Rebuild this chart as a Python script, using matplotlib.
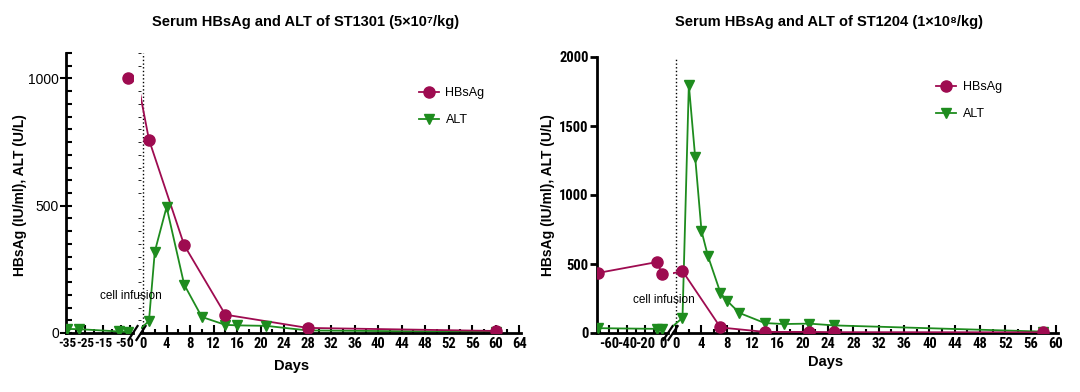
import matplotlib
matplotlib.use('Agg')
import matplotlib.pyplot as plt
from matplotlib import font_manager
from matplotlib.font_manager import FontProperties
from matplotlib.ticker import MultipleLocator, FixedLocator

# ST1301 (left panel)
hb1_pre_x = [-1]
hb1_pre_y = [1000]
hb1_x = [1, 7, 14, 28, 60]
hb1_y = [760, 345, 72, 20, 8]
alt1_pre_x = [-35, -28, -6, -1]
alt1_pre_y = [16, 15, 6, 5]
alt1_x = [1, 2, 4, 7, 10, 14, 16, 21, 28, 60]
alt1_y = [47, 320, 495, 190, 63, 32, 30, 28, 10, 4]

# ST1204 (right panel)
hb2_pre_x = [-72, -7, -1]
hb2_pre_y = [435, 514, 428]
hb2_x = [1, 7, 14, 21, 25, 58]
hb2_y = [449, 40, 8, 8, 6, 5]
alt2_pre_x = [-72, -7, -1]
alt2_pre_y = [35, 30, 30]
alt2_x = [1, 2, 3, 4, 5, 7, 8, 10, 14, 17, 21, 25, 58]
alt2_y = [110, 1800, 1275, 740, 560, 290, 235, 145, 72, 65, 68, 55, 10]

titles = ['Serum HBsAg and ALT of ST1301 (5×10⁷/kg)',
          'Serum HBsAg and ALT of ST1204 (1×10⁸/kg)']

MAG = '#9E0B50'
GRN = '#1E8C1E'

plt.rcParams['font.family'] = ['Liberation Sans', 'DejaVu Sans']
plt.rcParams['axes.unicode_minus'] = False

# look for an upright condensed bold face for the tick labels (like Arial Narrow)
cond = None
for f in font_manager.fontManager.ttflist:
    nm = f.name + ' ' + f.fname
    if ('Narrow' in nm or 'Condensed' in nm) and f.style == 'normal' \
            and 'Italic' not in nm and 'Oblique' not in nm \
            and f.weight in ('bold', 700):
        cond = f.fname
        if 'Liberation' in nm:
            break
if cond:
    tick_fp = FontProperties(fname=cond, size=10.5)
    small_fp = FontProperties(fname=cond, size=9.5)
else:
    tick_fp = FontProperties(family='Liberation Sans', weight='bold', size=8)
    small_fp = FontProperties(family='Liberation Sans', weight='bold', size=7)

W, H = 1080, 392
fig = plt.figure(figsize=(W / 100, H / 100), dpi=100)


def fx(px):
    return px / W


def fy(py):
    return 1 - py / H


def make_panel(seg1, seg2, top, xl1, xl2, ymax):
    bottom = 333
    h = fy(top) - fy(bottom)
    a1 = fig.add_axes([fx(seg1[0]), fy(bottom), fx(seg1[1] - seg1[0]), h])
    a2 = fig.add_axes([fx(seg2[0]), fy(bottom), fx(seg2[1] - seg2[0]), h], sharey=a1)
    a1.set_xlim(*xl1)
    a2.set_xlim(*xl2)
    a1.set_ylim(0, ymax)
    for a in (a1, a2):
        a.spines['top'].set_visible(False)
        a.spines['right'].set_visible(False)
        a.spines['bottom'].set_linewidth(2)
        a.patch.set_alpha(0)
        a.tick_params(axis='x', which='major', direction='in', length=6, width=1.5, pad=3)
        a.tick_params(axis='x', which='minor', direction='in', length=3, width=1.5)
    a1.spines['left'].set_linewidth(2)
    a2.spines['left'].set_visible(False)
    a2.tick_params(axis='y', left=False, labelleft=False)
    # break marks
    d = 0.012
    kw = dict(color='k', lw=1.6, clip_on=False)
    r = (seg1[1] - seg1[0]) / (seg2[1] - seg2[0])
    a1.plot([1 - d / r, 1 + d / r], [-0.025, 0.025], transform=a1.transAxes, **kw)
    a2.plot([-d, d], [-0.025, 0.025], transform=a2.transAxes, **kw)
    return a1, a2


def draw(a1, a2, hpx, hpy, hx, hy, apx, apy, ax_, ay):
    # pre-infusion segment
    a1.plot(apx, apy, '-v', color=GRN, ms=7, lw=1.3, zorder=4)
    a1.plot(hpx, hpy, '-o', color=MAG, ms=8, lw=1.3, zorder=5)
    # post-infusion segment, line bridged from the last pre point
    a2.plot(apx[-1:] + ax_, apy[-1:] + ay, color=GRN, lw=1.3, zorder=2)
    a2.plot(hpx[-1:] + hx, hpy[-1:] + hy, color=MAG, lw=1.3, zorder=3)
    a2.plot(ax_, ay, 'v', color=GRN, ms=7, zorder=4)
    a2.plot(hx, hy, 'o', color=MAG, ms=8, zorder=5)
    a2.axvline(0, color='k', ls=':', lw=1, zorder=1)


# ---- left panel
l1, l2 = make_panel((66, 133), (141, 521), 53, (-35.5, 1.8), (-0.35, 64.3), 1100)
l1.xaxis.set_major_locator(FixedLocator([-35, -25, -15, -5, 0]))
l1.xaxis.set_minor_locator(FixedLocator([-30, -20, -10]))
l2.xaxis.set_major_locator(MultipleLocator(4))
l2.xaxis.set_minor_locator(MultipleLocator(2))
l1.yaxis.set_major_locator(FixedLocator([0, 500, 1000]))
l1.yaxis.set_minor_locator(MultipleLocator(50))
l1.tick_params(axis='y', which='major', direction='inout', length=8, width=1.5, labelsize=10, pad=1)
l1.tick_params(axis='y', which='minor', direction='in', length=4, width=1.5)
draw(l1, l2, hb1_pre_x, hb1_pre_y, hb1_x, hb1_y, alt1_pre_x, alt1_pre_y, alt1_x, alt1_y)

# ---- right panel
r1, r2 = make_panel((597, 668), (673, 1058), 57, (-73, 5.3), (-0.5, 60.3), 2000)
r1.xaxis.set_major_locator(FixedLocator([-60, -40, -20, 0]))
r1.xaxis.set_minor_locator(FixedLocator([-70, -50, -30, -10]))
r2.xaxis.set_major_locator(MultipleLocator(4))
r2.xaxis.set_minor_locator(MultipleLocator(2))
r1.yaxis.set_major_locator(MultipleLocator(500))
r1.tick_params(axis='y', which='major', direction='out', length=5, width=2, pad=1)
draw(r1, r2, hb2_pre_x, hb2_pre_y, hb2_x, hb2_y, alt2_pre_x, alt2_pre_y, alt2_x, alt2_y)

for a in (l2, r1, r2):
    for lab in a.get_xticklabels():
        lab.set_fontproperties(tick_fp)
for lab in l1.get_xticklabels():
    lab.set_fontproperties(small_fp)
for lab in r1.get_yticklabels():
    lab.set_fontproperties(tick_fp)

# legends
for a, pos in ((l2, (fx(408), fy(76))), (r2, (fx(925), fy(70)))):
    h1, = a.plot([], [], '-o', color=MAG, ms=8, lw=1.3)
    h2, = a.plot([], [], '-v', color=GRN, ms=7, lw=1.3)
    a.legend([h1, h2], ['HBsAg', 'ALT'], loc='upper left', bbox_to_anchor=pos,
             bbox_transform=fig.transFigure, frameon=False, fontsize=9,
             handlelength=1.6, handletextpad=0.5, labelspacing=1.2)

# texts
fig.text(fx(306), fy(22), titles[0], ha='center', va='center', fontsize=10.5, fontweight='bold')
fig.text(fx(829), fy(22), titles[1], ha='center', va='center', fontsize=10.5, fontweight='bold')
for x in (20, 548):
    fig.text(fx(x), fy(195), 'HBsAg (IU/ml), ALT (U/L)', rotation=90, ha='center',
             va='center', fontsize=10, fontweight='bold')
fig.text(fx(292), fy(366), 'Days', ha='center', va='center', fontsize=10.5, fontweight='bold')
fig.text(fx(826), fy(362), 'Days', ha='center', va='center', fontsize=10.5, fontweight='bold')
fig.text(fx(131), fy(296), 'cell infusion', ha='center', va='center', fontsize=8.5)
fig.text(fx(664), fy(300), 'cell infusion', ha='center', va='center', fontsize=8.5)

fig.savefig('out.png', dpi=100)
